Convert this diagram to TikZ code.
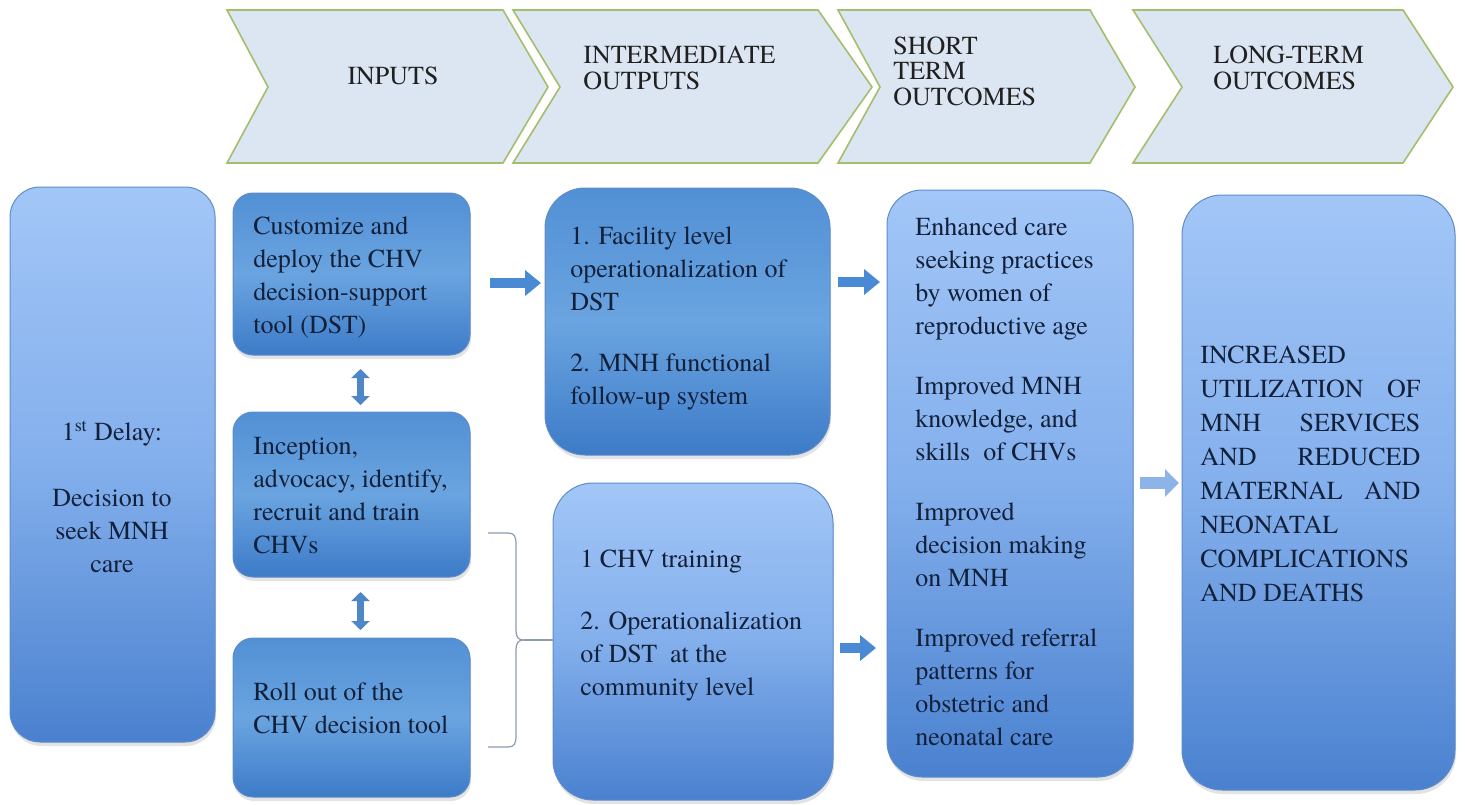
\documentclass[tikz,border=0pt]{standalone}
\usepackage{fontspec}
\IfFontExistsTF{texgyretermes-regular.otf}{\setmainfont{texgyretermes-regular.otf}[BoldFont=texgyretermes-bold.otf]}{}
\usetikzlibrary{shadows,arrows.meta,calc}
\definecolor{txt}{HTML}{13203A}
\definecolor{ttl}{HTML}{202020}
\definecolor{chevfill}{HTML}{DCE6F2}
\definecolor{chevline}{HTML}{A3BE6C}
\definecolor{boxline}{HTML}{5F8CC8}
\definecolor{lbTop}{HTML}{A2C6F7}
\definecolor{lbMid}{HTML}{83AFEC}
\definecolor{lbBot}{HTML}{4A81CF}
\definecolor{dbTop}{HTML}{5290D5}
\definecolor{dbMid}{HTML}{6AA4E0}
\definecolor{dbBot}{HTML}{3D7BC8}
\definecolor{arr}{HTML}{4A8AD4}
\definecolor{arrlight}{HTML}{8DB4E9}
\definecolor{dblcol}{HTML}{4F86C8}
\definecolor{bracecol}{HTML}{8C9BB0}
\newcommand\chevshape[4]{%
  \filldraw[chevron] (#1,10) -- (#3,10) -- (#4,87) -- (#3,163) -- (#1,163) -- (#2,87) -- cycle;}
\tikzset{
  chevron/.style={fill=chevfill, draw=chevline, line width=0.8pt, line join=miter},
  box/.style={rounded corners=#1, draw=boxline, line width=0.5pt, inner sep=0pt, outer sep=0pt,
    drop shadow={opacity=0.22, shadow xshift=0.5pt, shadow yshift=-2pt}},
  lightbox/.style={box=#1, top color=lbTop, bottom color=lbBot, middle color=lbMid},
  darkbox/.style={box=#1, top color=dbTop, bottom color=dbBot, middle color=dbMid},
  bodytext/.style={font=\fontsize{13}{16.5}\selectfont, text=txt, align=left, inner sep=0pt},
  titletext/.style={font=\fontsize{13}{12.8}\selectfont, text=ttl, align=left, inner sep=0pt},
  fatarrow/.style={draw=arr, line width=5pt, -{Triangle[width=12.5pt,length=8pt]}},
  lightarrow/.style={draw=arrlight, line width=6pt, -{Triangle[width=13.5pt,length=7pt]}},
  dblarrow/.style={draw=dblcol, line width=3.2pt, {Triangle[width=9pt,length=4.5pt]}-{Triangle[width=9pt,length=4.5pt]}},
  bracestyle/.style={draw=bracecol, line width=0.6pt}
}
\begin{document}
\begin{tikzpicture}[x=0.5pt,y=-0.5pt]
\useasboundingbox (0,0) rectangle (1465,804);
\fill[white] (0,0) rectangle (1465,804);

% header chevrons
\chevshape{227}{268}{503}{548}
\chevshape{513}{560}{818}{872}
\chevshape{838}{880}{1090}{1135}
\chevshape{1133}{1182}{1403}{1453}
\node[titletext] (tIn) at (393,76) {INPUTS};
\node[titletext, anchor=west] (tIO) at (583,68) {INTERMEDIATE\\OUTPUTS};
\node[titletext, anchor=west] (tST) at (893,71) {SHORT\\TERM\\OUTCOMES};
\node[titletext, anchor=west] (tLT) at (1213,68) {LONG-TERM\\OUTCOMES};

% boxes
\node[lightbox=15pt, minimum width=102.5pt, minimum height=277.5pt] (delay) at (112.5,464.5) {};
\node[darkbox=10pt, minimum width=118.5pt, minimum height=81pt] (cust) at (351.5,274) {};
\node[darkbox=10pt, minimum width=118.5pt, minimum height=82.5pt] (inc) at (351.5,494.5) {};
\node[darkbox=10pt, minimum width=118.5pt, minimum height=79.5pt] (roll) at (351.5,717.5) {};
\node[darkbox=20pt, minimum width=142.5pt, minimum height=133.5pt] (fac) at (687.5,321.5) {};
\node[lightbox=20pt, minimum width=140pt, minimum height=158.5pt] (chv) at (693,641.5) {};
\node[lightbox=17.5pt, minimum width=123pt, minimum height=293.5pt] (short) at (1010,483.5) {};
\node[lightbox=20pt, minimum width=136.5pt, minimum height=297.5pt] (long) at (1318.5,492.5) {};

% texts
\node[bodytext, align=center] (delayT) at (112,497) {1\textsuperscript{st} Delay:\\[16.5pt]Decision to\\seek MNH\\care};
\node[bodytext, anchor=west] (custT) at (253,277) {Customize and\\deploy the CHV\\decision-support\\tool (DST)};
\node[bodytext, anchor=west] (incT) at (253,496) {Inception,\\advocacy, identify,\\recruit and train\\CHVs};
\node[bodytext, anchor=west] (rollT) at (253,708) {Roll out of the\\CHV decision tool};
\node[bodytext, anchor=west] (facT) at (570,318) {1. Facility level\\operationalization of\\DST\\[14pt]2. MNH functional\\follow-up system};
\node[bodytext, anchor=west] (chvT) at (580,626) {1 CHV training\\[14.5pt]2. Operationalization\\of DST\ \ at the\\community level};
\node[bodytext, anchor=west] (shortT) at (915,482) {Enhanced care\\seeking practices\\by women of\\reproductive age\\[13.5pt]Improved MNH\\knowledge, and\\skills\ \ of CHVs\\[13.5pt]Improved\\decision making\\on MNH\\[13.5pt]Improved referral\\patterns for\\obstetric and\\neonatal care};
\node[bodytext, anchor=west, font=\fontsize{13}{17}\selectfont] (longT) at (1200,474) {INCREASED\\\makebox[110pt][s]{UTILIZATION OF}\\\makebox[110pt][s]{MNH SERVICES}\\\makebox[110pt][s]{AND REDUCED}\\\makebox[110pt][s]{MATERNAL AND}\\NEONATAL\\COMPLICATIONS\\AND DEATHS};

% connectors
\coordinate (yA) at (0,283);
\coordinate (yB) at (0,282);
\coordinate (yC) at (0,648);
\coordinate (yD) at (0,483);
\draw[fatarrow, shorten <=10pt, shorten >=2pt] (cust.east |- yA) -- (fac.west |- yA);
\draw[fatarrow, shorten <=4pt, shorten >=3.5pt] (fac.east |- yB) -- (short.west |- yB);
\draw[fatarrow, shorten <=3.5pt, shorten >=5.5pt] (chv.east |- yC) -- (short.west |- yC);
\draw[lightarrow, shorten <=3.5pt, shorten >=1.5pt] (short.east |- yD) -- (long.west |- yD);
\draw[dblarrow] ([xshift=4.5pt, yshift=-7pt]cust.south) -- ([xshift=4.5pt, yshift=3.5pt]inc.north);
\draw[dblarrow] ([xshift=4.5pt, yshift=-7.5pt]inc.south) -- ([xshift=4.5pt, yshift=4pt]roll.north);

% brace
\draw[bracestyle] (488,533) -- (508,533) .. controls (514,533) and (516,536) .. (516,544)
  -- (516,630) .. controls (516,637) and (518,640) .. (524,640) coordinate (btip)
  .. controls (518,640) and (516,643) .. (516,650)
  -- (516,736) .. controls (516,744) and (514,747) .. (508,747) -- (488,747);
\draw[bracestyle] (btip) -- (chv.west |- btip);
\end{tikzpicture}
\end{document}
